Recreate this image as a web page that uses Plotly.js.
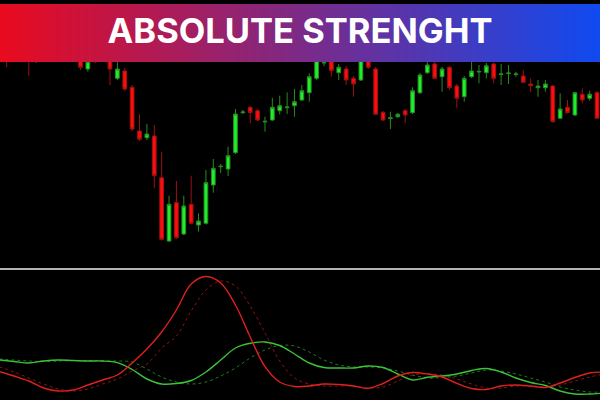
<!DOCTYPE html>
<html>
<head>
<meta charset="utf-8">
<script src="https://cdn.plot.ly/plotly-3.0.1.min.js"></script>
<style>
  html, body { margin: 0; padding: 0; background: #000; }
  #chart { width: 600px; height: 400px; }
</style>
</head>
<body>
<div id="chart"></div>
<script>
// ---- Price candles (bar index, arbitrary price units) ----
const barIndex = Array.from({length: 82}, (_, i) => i);
const openVals  = [240,235,218,228,242,210,230,224,242,234,240,230,201,225,215,220,191.7,199,182.7,139,
                   132.3,134,92.3,29,67.3,36,65.7,45,46.7,85,103.3,101,117.3,157.3,162.7,159.3,148,150,159.3,162.3,
                   164.3,170,177.3,191.7,207,212,197.3,201,191.7,190,212,201,157.7,151.5,153.3,159.3,157.3,177.3,197.3,206,
                   193.3,202.7,184,173.3,193.3,198,197.3,206,195.4,196.4,195.4,194,186,182.3,182.3,184,151.7,162.7,155,175.7,
                   171.7,177.3];
const highVals  = [250,245,240,248,250,235,240,245,250,255,250,245,225,235,240,230,210,202,185,155.7,
                   146,145,118.3,74.3,89,74.3,94.3,56.7,100,111,106,123.3,161,160,164,161,153.3,172.3,174.3,177.7,
                   181,185,196.7,222,215,220,206,204,194,220,215,203,159,158.3,157,161,182.7,197,208.3,208,
                   203,204,186,194,208.3,205,207,207.5,206,205,198,200,191.7,190,190,185,176.7,170,178,181.7,
                   179.3,179];
const lowVals   = [215,202.7,212,220,194.3,207,212,215,220,225,215,200,198.3,207,210,185,190,179,139,129,
                   130,81.7,29.5,28,31,35,45.5,38.3,45.5,77.3,97,94,116,156,146.7,149,138.3,149,155.7,156,
                   153.3,169,168.3,190,204,193.3,190,185,173.3,189,201,155,149,141,152,146.7,156,176,196,191,
                   178.3,180,162.3,168.3,192,186.7,191.7,186.7,185,186,193.3,187,177.7,173.3,178.3,147.5,151,156.5,154,166.7,
                   169.3,151];
const closeVals = [225,220,230,240,230,225,220,238,230,248,222,202.7,208.3,212,230,201,201,181,141,130.7,
                   136,94.3,30.7,65.7,32.3,64,46.7,49,87.3,101.7,103.7,114.3,156,158,157.3,150,148.7,162.7,164.3,163,
                   168.3,179.3,193.3,215,207.5,199.3,202.7,190,186,215,202.7,155.7,150,152.2,155.7,155,179.3,195,205,191.7,
                   201,182.3,171.7,191.7,199,198.6,204.3,191.7,196,197,196,187.7,184.3,184,186,148.3,161,157.3,177.3,170,
                   175.7,151.7];

// ---- Absolute strength indicator (sampled every 2 bars) ----
const indBars    = [0,2,4,6,8,10,12,14,16,18,20,22,24,26,28,30,32,34,36,38,40,42,44,46,48,50,52,54,56,58,60,62,64,66,68,70,72,74,76,78,80,82];
const bullsLine  = [28.5,24,19,12,9,10,15,20,25,37,51,68,90,116,123.5,117,95,63,33.3,18,13.5,14,16,15.5,14,11.7,16.5,24,27.5,26,23,16.7,11.5,10.5,14,15,14,12.5,17,22.5,27,28];
const bullsSignal= [33.3,28,22,16,11,9,11,16,21,29,36,52,64,89,110,119,114,94,67,39,22,16,14,14,14,12,13,19,25,26,25,21,16,12,12,14,14,13,15,19,23,26];
const bearsLine  = [40,38.5,37,39,40,39.5,39,39,37.3,30.5,21,16,16.5,19.5,28,40,52,56.7,58,54.5,46,37,32.5,32,32,34,32.5,26,20,22.7,24,26,29.5,31.5,28,22,17.5,14.5,9,6,6,7];
const bearsSignal= [41,40,39,38.5,39,39.5,39.5,39,39,38,31,23,18,16,18,24,32,42,50,54.5,54,48,40,35,33,33,32,29,25,22,22.5,24,27,30,29,26,22,18,13,10,8,8];

const bannerTitle = 'ABSOLUTE STRENGHT';

// ---- Banner gradient (style only) ----
const shapes = [];
const steps = 150;
const c0 = [233, 10, 30], c1 = [16, 74, 240];
for (let k = 0; k < steps; k++) {
  const t = (k + 0.5) / steps;
  const c = c0.map((v, j) => Math.round(v + (c1[j] - v) * t));
  shapes.push({
    type: 'rect', xref: 'paper', yref: 'paper', layer: 'above',
    x0: k / steps, x1: (k + 1) / steps + 0.002,
    y0: 1 - 62 / 400, y1: 1 - 4 / 400,
    fillcolor: 'rgb(' + c.join(',') + ')', line: {width: 0}
  });
}
// top black strip
shapes.push({type: 'rect', xref: 'paper', yref: 'paper', layer: 'above',
  x0: 0, x1: 1, y0: 1 - 4 / 400, y1: 1, fillcolor: '#000', line: {width: 0}});
// separator between panels
shapes.push({type: 'line', xref: 'paper', yref: 'paper', layer: 'above',
  x0: 0, x1: 1, y0: 1 - 269 / 400, y1: 1 - 269 / 400, line: {color: '#b4b4b4', width: 2}});

const traces = [
  {
    type: 'candlestick', x: barIndex, open: openVals, high: highVals, low: lowVals, close: closeVals,
    xaxis: 'x', yaxis: 'y',
    increasing: {line: {color: '#2a8a22', width: 1}, fillcolor: '#1cf02c'},
    decreasing: {line: {color: '#9a1212', width: 1}, fillcolor: '#ff0c0c'},
    whiskerwidth: 0, hoverinfo: 'skip', showlegend: false
  },
  {type: 'scatter', mode: 'lines', x: indBars, y: bullsSignal, xaxis: 'x', yaxis: 'y2',
   line: {color: '#8c1414', width: 1, dash: '3px,3px', shape: 'spline'}, showlegend: false, hoverinfo: 'skip'},
  {type: 'scatter', mode: 'lines', x: indBars, y: bearsSignal, xaxis: 'x', yaxis: 'y2',
   line: {color: '#1f7a1f', width: 1, dash: '3px,3px', shape: 'spline'}, showlegend: false, hoverinfo: 'skip'},
  {type: 'scatter', mode: 'lines', x: indBars, y: bearsLine, xaxis: 'x', yaxis: 'y2',
   line: {color: '#3cc238', width: 1.4, shape: 'spline'}, showlegend: false, hoverinfo: 'skip'},
  {type: 'scatter', mode: 'lines', x: indBars, y: bullsLine, xaxis: 'x', yaxis: 'y2',
   line: {color: '#e0201c', width: 1.4, shape: 'spline'}, showlegend: false, hoverinfo: 'skip'}
];

const layout = {
  width: 600, height: 400,
  margin: {l: 0, r: 0, t: 0, b: 0, pad: 0},
  paper_bgcolor: '#000', plot_bgcolor: '#000',
  showlegend: false,
  boxgap: 0.28,
  title: {
    text: bannerTitle, x: 0.5, xanchor: 'center', xref: 'paper',
    y: 1 - 31 / 400, yanchor: 'middle', yref: 'paper',
    font: {family: 'Inter, "Open Sans", sans-serif', size: 34.5, color: '#ffffff', weight: 700}
  },
  xaxis: {
    range: [0.095, 81.4], visible: false, showgrid: false, zeroline: false,
    rangeslider: {visible: false}, fixedrange: true
  },
  yaxis: {
    domain: [132 / 400, 1], range: [2, 270], visible: false, showgrid: false, zeroline: false, fixedrange: true
  },
  yaxis2: {
    domain: [0, 130 / 400], range: [0, 130], visible: false, showgrid: false, zeroline: false, fixedrange: true
  },
  shapes: shapes
};

Plotly.newPlot('chart', traces, layout, {staticPlot: true, displayModeBar: false});
</script>
</body>
</html>
